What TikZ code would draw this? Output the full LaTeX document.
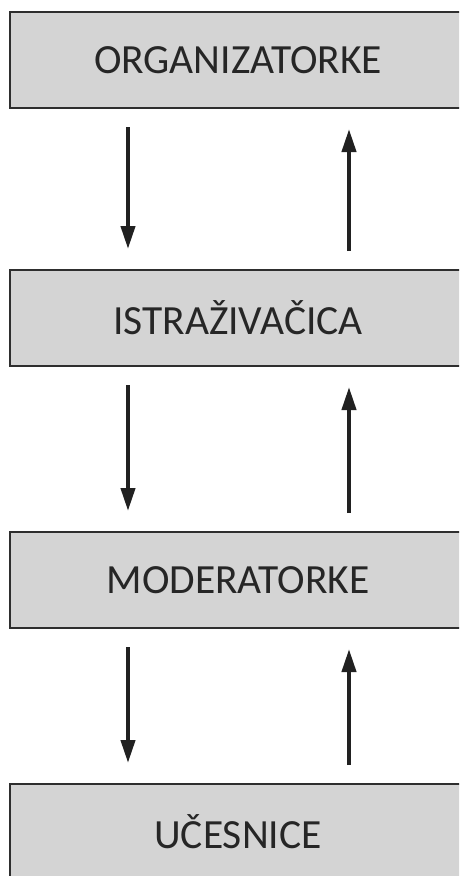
\documentclass[tikz,border=0pt]{standalone}
\usepackage{fontspec}
\setmainfont{Carlito}
\usetikzlibrary{arrows.meta}

\tikzset{
  box/.style={draw=black!82, line width=2pt, fill=black!17, text=black!85,
    minimum width=456pt, minimum height=96pt, inner sep=0pt,
    font=\fontsize{41.5}{41.5}\selectfont},
  arr/.style={draw=black!87, line width=4pt, -{Triangle[width=14pt,length=23pt]},
    shorten <=18pt, shorten >=20pt}
}

\begin{document}
\begin{tikzpicture}[x=1pt,y=-1pt]
\useasboundingbox (0,0) rectangle (459,876);
\clip (0,0) rectangle (459,876);

\node[box] (org) at (238,60) {ORGANIZATORKE};
\node[box] (istr) at (238,318) {ISTRAŽIVAČICA};
\node[box] (mod) at (238,580) {MODERATORKE};
\node[box] (uc) at (238,832) {UČESNICE};

% down on the left, up on the right
\draw[arr] ([xshift=-110pt]org.south) -- ([xshift=-110pt]istr.north);
\draw[arr] ([xshift=111pt]istr.north) -- ([xshift=111pt]org.south);

\draw[arr] ([xshift=-110pt]istr.south) -- ([xshift=-110pt]mod.north);
\draw[arr] ([xshift=111pt]mod.north) -- ([xshift=111pt]istr.south);

\draw[arr] ([xshift=-110pt]mod.south) -- ([xshift=-110pt]uc.north);
\draw[arr] ([xshift=111pt]uc.north) -- ([xshift=111pt]mod.south);
\end{tikzpicture}
\end{document}
